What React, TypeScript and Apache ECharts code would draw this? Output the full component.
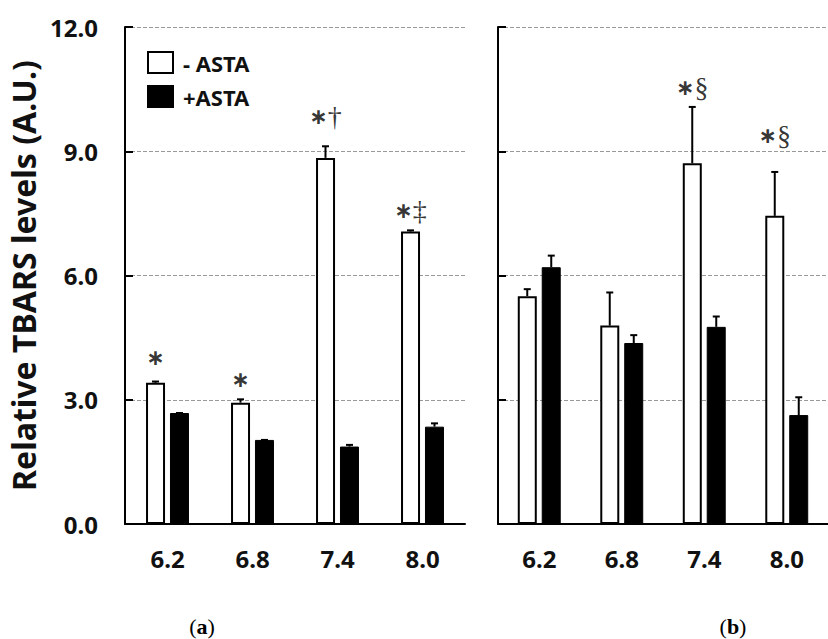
import React, { useEffect, useRef } from "react";
import * as echarts from "echarts";

const categories = ["6.2", "6.8", "7.4", "8.0"];
const yTicks = [0, 3, 6, 9, 12];

// Panel (a)
const aMinus = [3.41, 2.93, 8.84, 7.06];
const aMinusErr = [0.03, 0.08, 0.28, 0.03];
const aPlus = [2.68, 2.03, 1.87, 2.35];
const aPlusErr = [0, 0, 0.04, 0.08];
const aMarks = ["", "", "†", "‡"];
const aStars = [true, true, true, true];
const aMarkLevels = [4.01, 3.5, 9.83, 7.56];

// Panel (b)
const bMinus = [5.5, 4.79, 8.71, 7.44];
const bMinusErr = [0.17, 0.8, 1.36, 1.06];
const bPlus = [6.2, 4.37, 4.76, 2.63];
const bPlusErr = [0.28, 0.19, 0.25, 0.43];
const bMarks = ["", "", "§", "§"];
const bStars = [false, false, true, true];
const bMarkLevels = [0, 0, 10.53, 9.39];

const seriesNames = ["- ASTA", "+ASTA"];
const yTitle = "Relative TBARS levels (A.U.)";
const panelLabels = ["a", "b"];

const SANS = "'Noto Sans', 'Open Sans', sans-serif";
const SERIF = "'Liberation Serif', 'DejaVu Serif', serif";
const BAR_W = 19;
const HALF_OFF = 12;

function errSeries(grid: number, vals: number[], errs: number[], off: number) {
  return {
    type: "custom",
    xAxisIndex: grid,
    yAxisIndex: grid,
    z: 5,
    encode: { x: 0, y: 1 },
    data: vals.map((v, i) => [i, v, errs[i]]),
    renderItem: (_p: any, api: any) => {
      const x = api.value(0);
      const v = api.value(1);
      const e = api.value(2);
      const base = api.coord([x, v]);
      const top = api.coord([x, v + e]);
      const cx = base[0] + off;
      return {
        type: "group",
        children: [
          { type: "line", shape: { x1: cx, y1: base[1], x2: cx, y2: top[1] }, style: { stroke: "#000", lineWidth: 2 } },
          { type: "line", shape: { x1: cx - 3.5, y1: top[1], x2: cx + 3.5, y2: top[1] }, style: { stroke: "#000", lineWidth: 2 } },
        ],
      };
    },
  };
}

function markSeries(grid: number, stars: boolean[], marks: string[], levels: number[]) {
  return {
    type: "scatter",
    xAxisIndex: grid,
    yAxisIndex: grid,
    symbolSize: 0,
    z: 6,
    data: marks
      .map((m, i) => ({ value: [categories[i], levels[i]], m, s: stars[i] }))
      .filter((d) => d.s || d.m !== ""),
    label: {
      show: true,
      position: "inside",
      offset: [-HALF_OFF, 0],
      formatter: (p: any) => (p.data.s ? "{s|∗}" : "") + (p.data.m ? "{m|" + p.data.m + "}" : ""),
      rich: {
        s: { fontFamily: "'DejaVu Sans', sans-serif", fontWeight: "bold", fontSize: 22, color: "#000" },
        m: { fontFamily: SERIF, fontSize: 28, color: "#000" },
      },
    },
  };
}

function barSeries(grid: number, name: string, vals: number[], white: boolean) {
  return {
    type: "bar",
    name,
    xAxisIndex: grid,
    yAxisIndex: grid,
    barWidth: BAR_W,
    barGap: "26%",
    data: vals,
    itemStyle: white
      ? { color: "#fff", borderColor: "#000", borderWidth: 2 }
      : { color: "#000", borderColor: "#000", borderWidth: 1 },
  };
}

function panelLabel(letter: string, x: number) {
  return {
    type: "text",
    x,
    y: 626,
    style: {
      text: "(" + "{b|" + letter + "})",
      fontFamily: SERIF,
      fontSize: 22,
      lineHeight: 22,
      fill: "#000",
      align: "center",
      verticalAlign: "middle",
      rich: { b: { fontFamily: SERIF, fontSize: 22, lineHeight: 22, fontWeight: "bold" } },
    },
  };
}

export default function App() {
  const ref = useRef<HTMLDivElement>(null);
  useEffect(() => {
    if (!ref.current) return;
    const chart = echarts.init(ref.current, null, { renderer: "svg" });
    const yAxisBase = (grid: number, labels: boolean) => ({
      type: "value",
      gridIndex: grid,
      min: 0,
      max: 12,
      interval: 3,
      axisLine: { show: true, lineStyle: { color: "#000", width: 2 } },
      axisTick: { show: true, inside: true, length: 8, lineStyle: { color: "#000", width: 2 } },
      splitLine: { show: true, lineStyle: { color: "#999", width: 1, type: [4, 2] } },
      axisLabel: {
        show: labels,
        margin: 27,
        formatter: (v: number) => (yTicks.includes(v) ? v.toFixed(1) : ""),
        fontFamily: SANS,
        fontWeight: "bold",
        fontSize: 24,
        color: "#111",
      },
      ...(labels
        ? {
            name: yTitle,
            nameLocation: "middle",
            nameGap: 84,
            nameTextStyle: { fontFamily: SANS, fontWeight: "bold", fontSize: 32, color: "#111", lineHeight: 36 },
          }
        : {}),
    });
    const xAxisBase = (grid: number) => ({
      type: "category",
      gridIndex: grid,
      data: categories,
      axisLine: { show: true, lineStyle: { color: "#000", width: 2 } },
      axisTick: { show: false },
      axisLabel: { margin: 22, fontFamily: SANS, fontWeight: "bold", fontSize: 24, color: "#111" },
    });
    chart.setOption({
      animation: false,
      backgroundColor: "#fff",
      grid: [
        { left: 125, top: 27, width: 340, height: 497 },
        { left: 498, top: 27, width: 340, height: 497 },
      ],
      xAxis: [xAxisBase(0), xAxisBase(1)],
      yAxis: [yAxisBase(0, true), yAxisBase(1, false)],
      legend: {
        orient: "vertical",
        left: 142,
        top: 46,
        itemWidth: 25,
        itemHeight: 21,
        itemGap: 11,
        data: seriesNames.map((n) => ({ name: n, icon: "rect" })),
        textStyle: { fontFamily: SANS, fontWeight: "bold", fontSize: 22, color: "#111", padding: [0, 0, 0, 5] },
      },
      graphic: [panelLabel(panelLabels[0], 202), panelLabel(panelLabels[1], 733)],
      series: [
        barSeries(0, seriesNames[0], aMinus, true),
        barSeries(0, seriesNames[1], aPlus, false),
        barSeries(1, seriesNames[0], bMinus, true),
        barSeries(1, seriesNames[1], bPlus, false),
        errSeries(0, aMinus, aMinusErr, -HALF_OFF),
        errSeries(0, aPlus, aPlusErr, HALF_OFF),
        errSeries(1, bMinus, bMinusErr, -HALF_OFF),
        errSeries(1, bPlus, bPlusErr, HALF_OFF),
        markSeries(0, aStars, aMarks, aMarkLevels),
        markSeries(1, bStars, bMarks, bMarkLevels),
      ],
    });
    return () => chart.dispose();
  }, []);
  return (
    <div
      ref={ref}
      style={{ position: "fixed", left: 0, top: 0, width: 828, height: 639, background: "#fff" }}
    />
  );
}
